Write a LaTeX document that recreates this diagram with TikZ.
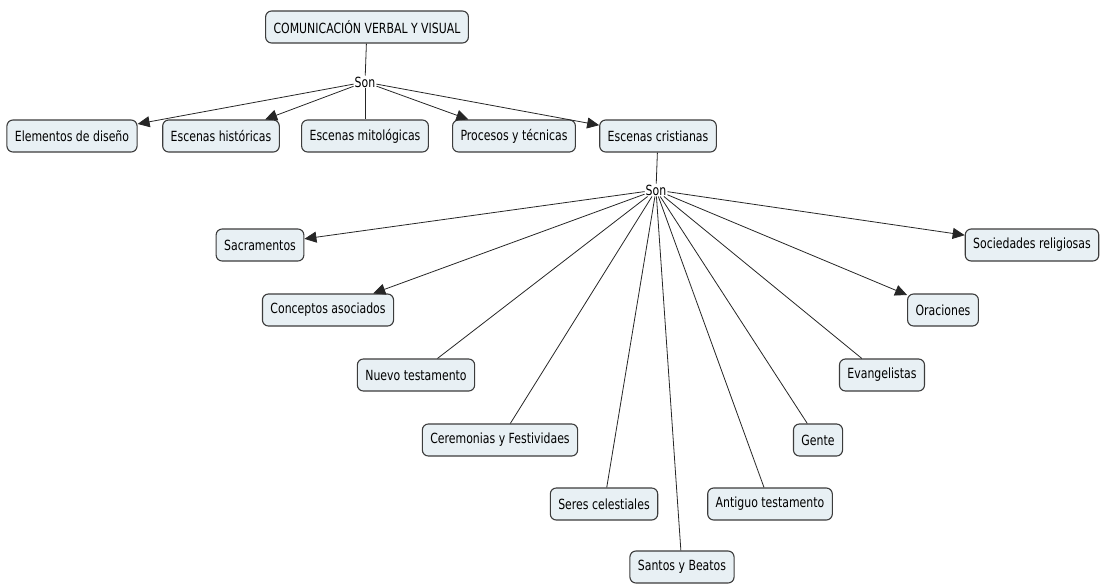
\documentclass[tikz,border=0pt]{standalone}
\usepackage{fontspec}
\setmainfont{DejaVu Sans}[FakeStretch=0.78]
\usepackage{tikz}
\usetikzlibrary{arrows.meta}
\definecolor{boxfill}{RGB}{232,240,244}
\definecolor{boxline}{RGB}{60,60,60}
\tikzset{
  concept/.style={draw=boxline, fill=boxfill, line width=1.1pt, rounded corners=6pt,
    minimum height=32pt, inner xsep=8pt, font=\fontsize{14}{16}\selectfont},
  linker/.style={inner sep=1pt, font=\fontsize{14}{16}\selectfont},
  link/.style={draw=black!85, line width=0.8pt},
  arrowlink/.style={link, -{Triangle[length=12pt,width=11pt]}}
}

\begin{document}
\begin{tikzpicture}[x=1pt,y=-1pt]
  \useasboundingbox (0,0) rectangle (1100,584);

  % Draw the top concept and its linking word
  \node[concept] (comun) at (367,27) {COMUNICACIÓN VERBAL Y VISUAL};
  \node[linker] (son1) at (365,82) {Son};
  \draw[link] (comun) -- (son1);

  % First row of concepts
  \foreach \name/\x/\y/\txt in {elem/72/136/Elementos de diseño,
      hist/221/136/Escenas históricas, mito/365/136/Escenas mitológicas,
      proc/514/136/Procesos y técnicas, crist/658/136/Escenas cristianas} {
    \node[concept] (\name) at (\x,\y) {\txt};
  }
  \foreach \name in {elem,hist,proc,crist} {
    \draw[arrowlink] (son1) -- (\name);
  }
  \draw[link] (son1) -- (mito);

  % Second linking word
  \node[linker] (son2) at (656,190) {Son};
  \draw[link] (crist) -- (son2);

  % Concepts below Escenas cristianas
  \foreach \name/\x/\y/\txt in {sacr/260/245/Sacramentos,
      conc/328/310/Conceptos asociados, nuevo/416/375/Nuevo testamento,
      cere/500/440/Ceremonias y Festividaes, seres/604/504/Seres celestiales,
      santos/682/567/Santos y Beatos, antig/770/504/Antiguo testamento,
      gente/818/440/Gente, evang/882/375/Evangelistas,
      orac/943/310/Oraciones, soc/1032/245/Sociedades religiosas} {
    \node[concept] (\name) at (\x,\y) {\txt};
  }
  \foreach \name in {sacr,conc,orac,soc} {
    \draw[arrowlink] (son2) -- (\name);
  }
  \foreach \name in {nuevo,cere,seres,santos,antig,gente,evang} {
    \draw[link] (son2) -- (\name);
  }
\end{tikzpicture}
\end{document}
